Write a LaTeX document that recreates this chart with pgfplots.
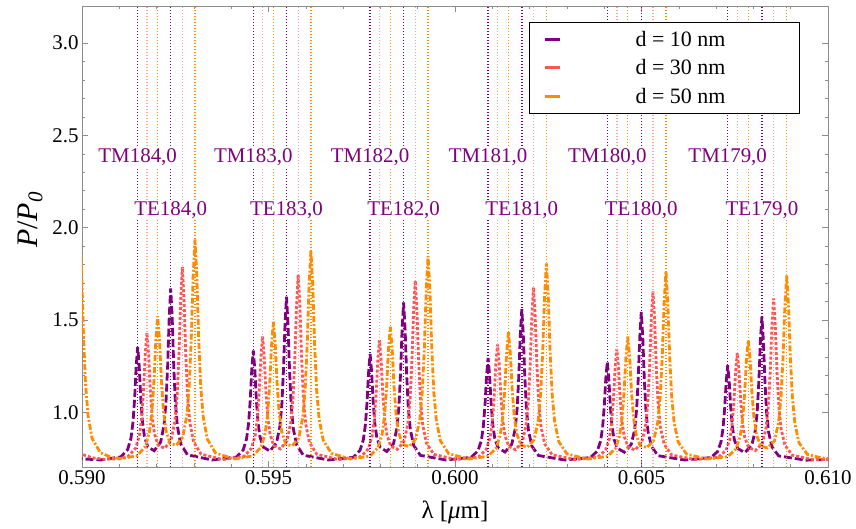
\documentclass[border=0pt]{standalone}
\usepackage{fontspec}
\setmainfont{Liberation Serif}
\usepackage{pgfplots}
\pgfplotsset{compat=1.18}
\definecolor{cpur}{RGB}{128,0,128}
\definecolor{cred}{RGB}{255,85,85}
\definecolor{corg}{RGB}{255,140,0}
\definecolor{cpink}{RGB}{255,160,160}
\definecolor{cframe}{RGB}{140,140,140}
\begin{document}
\begin{tikzpicture}
\useasboundingbox (-82bp,-62bp) rectangle (774bp,467bp);
\begin{axis}[
 at={(0,0)}, anchor=south west,
 scale only axis, width=746bp, height=461bp,
 xmin=0.59, xmax=0.61, ymin=0.705, ymax=3.2,
 xtick={0.59,0.595,0.6,0.605,0.61},
 ytick={1,1.5,2,2.5,3},
 minor x tick num=4, minor y tick num=4,
 xticklabel style={/pgf/number format/.cd, fixed, fixed zerofill, precision=3},
 yticklabel style={/pgf/number format/.cd, fixed, fixed zerofill, precision=1},
 /pgf/number format/assume math mode=true,
 tick label style={font=\fontsize{21}{25}\selectfont},
 axis line style={cframe, line width=0.7bp},
 major tick length=6bp, minor tick length=3.5bp,
 tick style={cframe, line width=0.6bp},
 xlabel={λ [\textit{μ}m]},
 ylabel={\textit{P}/\textit{P}\textsubscript{\textit{0}}},
 xlabel style={font=\fontsize{25}{30}\selectfont, at={(axis description cs:0.5,-0.0976)}, anchor=center},
 ylabel style={font=\fontsize{30}{36}\selectfont, at={(axis description cs:-0.0697,0.536)}, anchor=center},
 legend style={at={(0.599,0.965)}, anchor=north west, draw=black, line width=0.6bp, fill=white,
   inner xsep=0pt, inner ysep=3bp, row sep=0pt, column sep=0pt,
   font=\fontsize{22}{26}\selectfont, nodes={inner sep=0pt, minimum height=28.3bp}},
 legend image code/.code={\path[draw=none] (0bp,0bp) -- (31bp,0bp); \draw[solid, line width=2.8bp] (16bp,0bp) -- (31bp,0bp);},
]
% d = 10 nm
\addplot[cpur, line width=2.8bp, dash pattern=on 8bp off 3bp] table {
x y
0.589800 0.752
0.590000 0.749
0.590500 0.743
0.591043 0.760
0.591223 0.799
0.591313 0.861
0.591367 0.947
0.591412 1.079
0.591453 1.251
0.591493 1.355
0.591533 1.253
0.591574 1.083
0.591619 0.954
0.591673 0.871
0.591763 0.815
0.591936 0.793
0.592108 0.839
0.592198 0.930
0.592252 1.056
0.592297 1.256
0.592338 1.515
0.592378 1.672
0.592418 1.514
0.592459 1.254
0.592504 1.052
0.592558 0.924
0.592648 0.829
0.592828 0.771
0.593485 0.743
0.594142 0.759
0.594322 0.797
0.594412 0.858
0.594466 0.940
0.594511 1.069
0.594552 1.235
0.594592 1.336
0.594632 1.237
0.594673 1.073
0.594718 0.947
0.594772 0.868
0.594862 0.813
0.595038 0.791
0.595213 0.835
0.595303 0.921
0.595357 1.041
0.595402 1.231
0.595443 1.478
0.595483 1.627
0.595523 1.477
0.595564 1.229
0.595609 1.037
0.595663 0.915
0.595753 0.825
0.595933 0.769
0.596604 0.743
0.597274 0.758
0.597454 0.795
0.597544 0.854
0.597598 0.934
0.597643 1.058
0.597684 1.219
0.597724 1.317
0.597764 1.221
0.597805 1.062
0.597850 0.941
0.597904 0.864
0.597994 0.811
0.598173 0.789
0.598352 0.832
0.598442 0.914
0.598496 1.030
0.598541 1.213
0.598582 1.451
0.598622 1.595
0.598662 1.450
0.598703 1.211
0.598748 1.026
0.598802 0.908
0.598892 0.822
0.599072 0.768
0.599755 0.743
0.600437 0.757
0.600617 0.793
0.600707 0.849
0.600761 0.927
0.600806 1.046
0.600847 1.201
0.600887 1.295
0.600927 1.203
0.600968 1.050
0.601013 0.934
0.601067 0.859
0.601157 0.809
0.601339 0.786
0.601521 0.828
0.601611 0.907
0.601665 1.018
0.601710 1.193
0.601751 1.421
0.601791 1.559
0.601831 1.420
0.601872 1.191
0.601917 1.014
0.601971 0.901
0.602061 0.818
0.602241 0.767
0.602937 0.743
0.603633 0.756
0.603813 0.791
0.603903 0.845
0.603957 0.919
0.604002 1.034
0.604043 1.183
0.604083 1.273
0.604123 1.185
0.604164 1.038
0.604209 0.926
0.604263 0.855
0.604353 0.807
0.604539 0.785
0.604724 0.827
0.604814 0.904
0.604868 1.013
0.604913 1.185
0.604954 1.408
0.604994 1.544
0.605034 1.407
0.605075 1.183
0.605120 1.009
0.605174 0.898
0.605264 0.817
0.605444 0.766
0.606153 0.743
0.606861 0.756
0.607041 0.789
0.607131 0.841
0.607185 0.913
0.607230 1.024
0.607271 1.168
0.607311 1.255
0.607351 1.170
0.607392 1.028
0.607437 0.920
0.607491 0.851
0.607581 0.805
0.607770 0.783
0.607958 0.824
0.608048 0.899
0.608102 1.005
0.608147 1.171
0.608188 1.388
0.608228 1.519
0.608268 1.387
0.608309 1.169
0.608354 1.001
0.608408 0.893
0.608498 0.814
0.608678 0.765
0.609400 0.742
0.610000 0.746
0.610300 0.750
};
\addlegendentry{\makebox[238bp][c]{d = 10 nm}}
% d = 30 nm
\addplot[cred, line width=2.8bp, dash pattern=on 3bp off 2bp] table {
x y
0.589800 0.800
0.590000 0.775
0.590100 0.766
0.590300 0.754
0.590600 0.747
0.591000 0.750
0.591240 0.763
0.591440 0.807
0.591540 0.877
0.591600 0.972
0.591650 1.121
0.591695 1.314
0.591740 1.431
0.591785 1.316
0.591830 1.125
0.591880 0.979
0.591940 0.887
0.592040 0.823
0.592216 0.806
0.592391 0.851
0.592491 0.953
0.592551 1.095
0.592601 1.319
0.592646 1.611
0.592691 1.787
0.592736 1.610
0.592781 1.317
0.592831 1.091
0.592891 0.947
0.592991 0.841
0.593191 0.775
0.593766 0.745
0.594341 0.762
0.594541 0.805
0.594641 0.873
0.594701 0.966
0.594751 1.110
0.594796 1.298
0.594841 1.411
0.594886 1.300
0.594931 1.114
0.594981 0.973
0.595041 0.883
0.595141 0.821
0.595319 0.803
0.595497 0.847
0.595597 0.945
0.595657 1.082
0.595707 1.297
0.595752 1.577
0.595797 1.747
0.595842 1.576
0.595887 1.295
0.595937 1.078
0.595997 0.939
0.596097 0.837
0.596297 0.774
0.596886 0.745
0.597475 0.761
0.597675 0.803
0.597775 0.869
0.597835 0.959
0.597885 1.099
0.597930 1.281
0.597975 1.391
0.598020 1.283
0.598065 1.103
0.598115 0.966
0.598175 0.879
0.598275 0.819
0.598455 0.801
0.598635 0.844
0.598735 0.938
0.598795 1.070
0.598845 1.279
0.598890 1.550
0.598935 1.714
0.598980 1.549
0.599025 1.277
0.599075 1.066
0.599135 0.932
0.599235 0.834
0.599435 0.773
0.600038 0.745
0.600640 0.760
0.600840 0.801
0.600940 0.864
0.601000 0.951
0.601050 1.086
0.601095 1.262
0.601140 1.368
0.601185 1.264
0.601230 1.090
0.601280 0.958
0.601340 0.874
0.601440 0.817
0.601623 0.798
0.601805 0.840
0.601905 0.931
0.601965 1.058
0.602015 1.258
0.602060 1.519
0.602105 1.677
0.602150 1.518
0.602195 1.256
0.602245 1.054
0.602305 0.925
0.602405 0.830
0.602605 0.771
0.603222 0.745
0.603838 0.759
0.604038 0.798
0.604138 0.859
0.604198 0.943
0.604248 1.073
0.604293 1.241
0.604338 1.343
0.604383 1.243
0.604428 1.077
0.604478 0.950
0.604538 0.869
0.604638 0.814
0.604823 0.796
0.605007 0.838
0.605107 0.926
0.605167 1.050
0.605217 1.246
0.605262 1.501
0.605307 1.655
0.605352 1.500
0.605397 1.244
0.605447 1.046
0.605507 0.920
0.605607 0.828
0.605807 0.770
0.606438 0.745
0.607068 0.758
0.607268 0.796
0.607368 0.855
0.607428 0.935
0.607478 1.060
0.607523 1.223
0.607568 1.321
0.607613 1.225
0.607658 1.064
0.607708 0.942
0.607768 0.865
0.607868 0.812
0.608055 0.794
0.608242 0.834
0.608342 0.919
0.608402 1.038
0.608452 1.225
0.608497 1.469
0.608542 1.617
0.608587 1.468
0.608632 1.223
0.608682 1.034
0.608742 0.913
0.608842 0.824
0.609042 0.769
0.609600 0.745
0.610000 0.746
0.610300 0.750
};
\addlegendentry{\makebox[238bp][c]{d = 30 nm}}
% d = 50 nm
\addplot[corg, line width=2.8bp, dash pattern=on 6bp off 2bp on 2bp off 2bp] table {
x y
0.589940 1.976
0.589990 1.769
0.590039 1.423
0.590094 1.156
0.590160 0.985
0.590270 0.860
0.590490 0.783
0.590820 0.754
0.591100 0.752
0.591479 0.766
0.591699 0.816
0.591809 0.895
0.591875 1.003
0.591930 1.171
0.591979 1.389
0.592029 1.521
0.592079 1.391
0.592128 1.175
0.592183 1.010
0.592249 0.905
0.592359 0.832
0.592529 0.823
0.592699 0.866
0.592809 0.983
0.592875 1.146
0.592930 1.402
0.592979 1.735
0.593029 1.937
0.593079 1.734
0.593128 1.400
0.593183 1.142
0.593249 0.977
0.593359 0.856
0.593579 0.781
0.594080 0.748
0.594581 0.765
0.594801 0.813
0.594911 0.889
0.594977 0.993
0.595032 1.154
0.595081 1.364
0.595131 1.491
0.595181 1.366
0.595230 1.158
0.595285 1.000
0.595351 0.899
0.595461 0.829
0.595634 0.819
0.595807 0.860
0.595917 0.971
0.595983 1.125
0.596038 1.369
0.596087 1.685
0.596137 1.877
0.596187 1.684
0.596236 1.367
0.596291 1.121
0.596357 0.965
0.596467 0.850
0.596687 0.779
0.597202 0.748
0.597716 0.764
0.597936 0.810
0.598046 0.883
0.598112 0.984
0.598167 1.139
0.598216 1.342
0.598266 1.464
0.598316 1.344
0.598365 1.143
0.598420 0.991
0.598486 0.893
0.598596 0.826
0.598772 0.816
0.598948 0.857
0.599058 0.965
0.599124 1.115
0.599179 1.352
0.599228 1.660
0.599278 1.847
0.599328 1.659
0.599377 1.350
0.599432 1.111
0.599498 0.959
0.599608 0.847
0.599828 0.778
0.600356 0.748
0.600883 0.763
0.601103 0.807
0.601213 0.878
0.601279 0.974
0.601334 1.124
0.601383 1.319
0.601433 1.437
0.601483 1.321
0.601532 1.128
0.601587 0.981
0.601653 0.888
0.601763 0.823
0.601942 0.813
0.602121 0.853
0.602231 0.957
0.602297 1.102
0.602352 1.330
0.602401 1.627
0.602451 1.807
0.602501 1.626
0.602550 1.328
0.602605 1.098
0.602671 0.951
0.602781 0.843
0.603001 0.776
0.603542 0.748
0.604082 0.762
0.604302 0.805
0.604412 0.873
0.604478 0.966
0.604533 1.110
0.604582 1.298
0.604632 1.411
0.604682 1.300
0.604731 1.114
0.604786 0.973
0.604852 0.883
0.604962 0.821
0.605144 0.810
0.605326 0.849
0.605436 0.948
0.605502 1.087
0.605557 1.306
0.605606 1.591
0.605656 1.764
0.605706 1.590
0.605755 1.304
0.605810 1.083
0.605876 0.942
0.605986 0.839
0.606206 0.775
0.606760 0.748
0.607313 0.761
0.607533 0.803
0.607643 0.869
0.607709 0.959
0.607764 1.099
0.607813 1.281
0.607863 1.391
0.607913 1.283
0.607962 1.103
0.608017 0.966
0.608083 0.879
0.608193 0.819
0.608378 0.808
0.608563 0.846
0.608673 0.944
0.608739 1.080
0.608794 1.294
0.608843 1.573
0.608893 1.742
0.608943 1.572
0.608992 1.292
0.609047 1.076
0.609113 0.938
0.609223 0.836
0.609443 0.774
0.609800 0.755
0.610000 0.752
0.610300 0.750
};
\addlegendentry{\makebox[238bp][c]{d = 50 nm}}
% resonance positions
\addplot[forget plot, ycomb, cpink, line width=1.4bp, dash pattern=on 1.4bp off 1.6bp] coordinates {
(0.591740,3.3) (0.592691,3.3) (0.594841,3.3) (0.595797,3.3) (0.597975,3.3) (0.598935,3.3)
(0.601140,3.3) (0.602105,3.3) (0.604338,3.3) (0.605307,3.3) (0.607568,3.3) (0.608542,3.3)};
\addplot[forget plot, ycomb, corg, line width=1.4bp, dash pattern=on 1.4bp off 1.6bp] coordinates {
(0.592029,3.3) (0.593029,3.3) (0.595131,3.3) (0.596137,3.3) (0.598266,3.3) (0.599278,3.3)
(0.601433,3.3) (0.602451,3.3) (0.604632,3.3) (0.605656,3.3) (0.607863,3.3) (0.608893,3.3)};
\addplot[forget plot, ycomb, cpur, line width=1.4bp, dash pattern=on 1.4bp off 1.6bp] coordinates {
(0.591493,3.3) (0.592378,3.3) (0.594592,3.3) (0.595483,3.3) (0.597724,3.3) (0.598622,3.3)
(0.600887,3.3) (0.601791,3.3) (0.604083,3.3) (0.604994,3.3) (0.607311,3.3) (0.608228,3.3)};
% mode labels
\tikzset{modelab/.style={font=\fontsize{21}{25}\selectfont, text=cpur, fill=white, inner sep=1bp}}
\node[modelab] at (axis cs:0.591493,2.381) {TM184,0};
\node[modelab] at (axis cs:0.594592,2.381) {TM183,0};
\node[modelab] at (axis cs:0.597724,2.381) {TM182,0};
\node[modelab] at (axis cs:0.600887,2.381) {TM181,0};
\node[modelab] at (axis cs:0.604083,2.381) {TM180,0};
\node[modelab] at (axis cs:0.607311,2.381) {TM179,0};
\node[modelab] at (axis cs:0.592378,2.096) {TE184,0};
\node[modelab] at (axis cs:0.595483,2.096) {TE183,0};
\node[modelab] at (axis cs:0.598622,2.096) {TE182,0};
\node[modelab] at (axis cs:0.601791,2.096) {TE181,0};
\node[modelab] at (axis cs:0.604994,2.096) {TE180,0};
\node[modelab] at (axis cs:0.608228,2.096) {TE179,0};
\end{axis}
\end{tikzpicture}
\end{document}
